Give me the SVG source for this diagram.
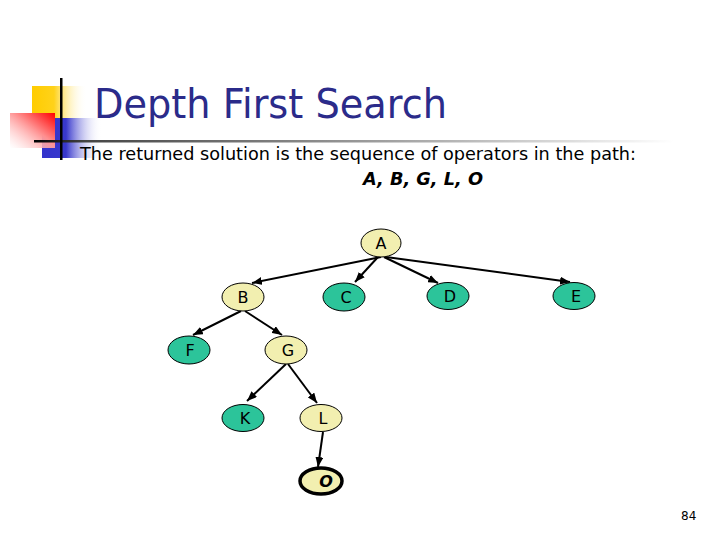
<svg xmlns="http://www.w3.org/2000/svg" width="720" height="540" viewBox="0 0 720 540">
<defs>
<linearGradient id="gy" x1="0" y1="0" x2="1" y2="0"><stop offset="0" stop-color="#FFCC00"/><stop offset="0.4" stop-color="#FFD21A"/><stop offset="1" stop-color="#FFFFFF" stop-opacity="0"/></linearGradient>
<linearGradient id="gb" x1="0" y1="0" x2="1" y2="0"><stop offset="0" stop-color="#3333CC"/><stop offset="0.4" stop-color="#3838CC"/><stop offset="1" stop-color="#FFFFFF" stop-opacity="0"/></linearGradient>
<linearGradient id="gr" x1="1" y1="0" x2="0" y2="1"><stop offset="0" stop-color="#FF0000"/><stop offset="0.45" stop-color="#FF9090"/><stop offset="1" stop-color="#FFFFFF" stop-opacity="0.5"/></linearGradient>
<linearGradient id="gl" x1="0" y1="0" x2="1" y2="0"><stop offset="0" stop-color="#000000"/><stop offset="0.08" stop-color="#444444"/><stop offset="0.6" stop-color="#AAAAAA"/><stop offset="1" stop-color="#FFFFFF"/></linearGradient>
<marker id="arr" markerWidth="10" markerHeight="8" refX="10" refY="4" orient="auto" markerUnits="userSpaceOnUse"><path d="M0,0 L10,4 L0,8 Z" fill="#000"/></marker>
</defs>
<style>
.n ellipse{stroke:#000;stroke-width:1}
.y ellipse{fill:#F2EFB0}
.t ellipse{fill:#2CC49A}
.n text{font-family:"DejaVu Sans",sans-serif;font-size:16px;fill:#000;text-anchor:middle}
#edges line{stroke:#000;stroke-width:2;marker-end:url(#arr)}
</style>
<g id="decor">
<rect x="32" y="86" width="55" height="32" fill="url(#gy)"/>
<rect x="42" y="118" width="60" height="40" fill="url(#gb)"/>
<rect x="10" y="113" width="45" height="35" fill="url(#gr)"/>
<rect x="34" y="140" width="640" height="2.5" fill="url(#gl)"/>
<rect x="60" y="78" width="2.5" height="82" fill="#000"/>
</g>
<text x="94" y="118" font-family="DejaVu Sans,sans-serif" font-size="41" fill="#2B2B8A" textLength="353" lengthAdjust="spacingAndGlyphs">Depth First Search</text>
<text x="80" y="160" font-family="DejaVu Sans,sans-serif" font-size="18" fill="#000" textLength="556" lengthAdjust="spacingAndGlyphs">The returned solution is the sequence of operators in the path:</text>
<text x="363" y="185" font-family="DejaVu Sans,sans-serif" font-size="18" font-weight="bold" font-style="italic" fill="#000" textLength="120" lengthAdjust="spacingAndGlyphs">A, B, G, L, O</text>
<g id="edges">
<line x1="381" y1="257" x2="252" y2="283"/>
<line x1="378" y1="257" x2="355" y2="282"/>
<line x1="384" y1="257" x2="438" y2="283"/>
<line x1="386" y1="257" x2="570" y2="282"/>
<line x1="241" y1="311" x2="193" y2="335"/>
<line x1="245" y1="311" x2="282" y2="335"/>
<line x1="286" y1="364" x2="247" y2="401"/>
<line x1="288" y1="364" x2="317" y2="403"/>
<line x1="323" y1="432" x2="318" y2="467"/>
</g>
<g id="A" class="n y"><ellipse cx="381" cy="243" rx="20" ry="14"/><text x="381" y="249">A</text></g>
<g id="B" class="n y"><ellipse cx="243" cy="297" rx="21" ry="14"/><text x="243" y="303">B</text></g>
<g id="C" class="n t"><ellipse cx="344" cy="297" rx="21" ry="14"/><text x="346" y="303">C</text></g>
<g id="D" class="n t"><ellipse cx="448" cy="296" rx="21" ry="13.5"/><text x="450" y="302">D</text></g>
<g id="E" class="n t"><ellipse cx="574" cy="296" rx="21" ry="13.5"/><text x="576" y="302">E</text></g>
<g id="F" class="n t"><ellipse cx="189" cy="350" rx="21" ry="14"/><text x="190" y="356">F</text></g>
<g id="G" class="n y"><ellipse cx="286" cy="350" rx="21" ry="14"/><text x="288" y="356">G</text></g>
<g id="K" class="n t"><ellipse cx="243" cy="418" rx="21" ry="13.5"/><text x="245" y="424">K</text></g>
<g id="L" class="n y"><ellipse cx="321" cy="418" rx="21" ry="13.5"/><text x="323" y="424">L</text></g>
<g id="O" class="n y"><ellipse cx="321" cy="481" rx="21" ry="13" style="stroke-width:3.5"/><text x="326" y="487" font-style="italic" font-weight="bold">O</text></g>
<text x="681" y="520" font-family="DejaVu Sans,sans-serif" font-size="12" fill="#000">84</text>
</svg>
